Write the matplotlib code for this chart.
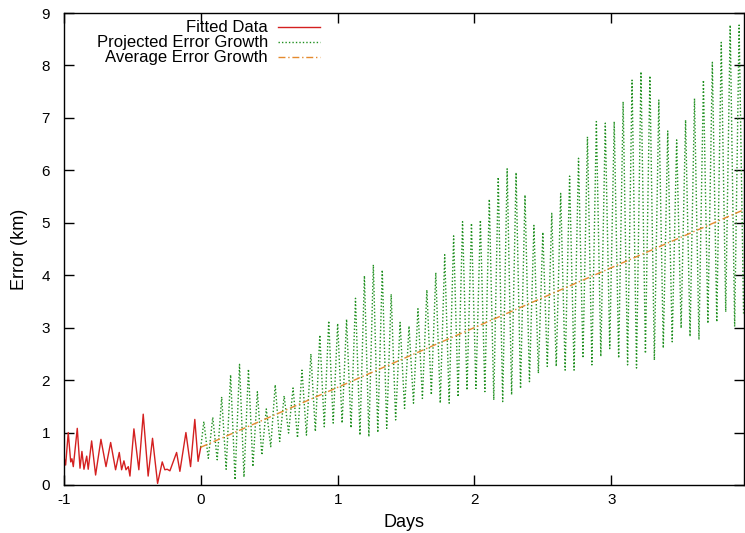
"""
Orbit error: fitted data over the last day and projected growth ahead.
"""

import numpy as np
import matplotlib
matplotlib.use("Agg")
import matplotlib.pyplot as plt
from matplotlib.lines import Line2D

plt.rcParams['font.family'] = ['Liberation Sans', 'DejaVu Sans']
plt.rcParams['font.size'] = 11
plt.rcParams['axes.unicode_minus'] = False

# fitted data (turning points of the curve), days / km
fit_days = [-1.0, -0.988, -0.969, -0.951, -0.942, -0.932, -0.903, -0.883, -0.869, -0.854,
            -0.834, -0.823, -0.798, -0.769, -0.730, -0.693, -0.659, -0.623, -0.596, -0.579,
            -0.562, -0.547, -0.530, -0.518, -0.489, -0.453, -0.421, -0.385, -0.353, -0.316,
            -0.282, -0.263, -0.246, -0.226, -0.177, -0.153, -0.109, -0.075, -0.044, -0.020, 0.0]
fit_err = [0.54, 0.38, 1.00, 0.44, 0.50, 0.35, 1.08, 0.32, 0.64, 0.30,
           0.55, 0.30, 0.84, 0.19, 0.87, 0.35, 0.81, 0.29, 0.62, 0.29,
           0.46, 0.29, 0.35, 0.17, 1.07, 0.29, 1.35, 0.17, 0.89, 0.03,
           0.44, 0.29, 0.30, 0.27, 0.62, 0.26, 1.00, 0.35, 1.25, 0.45, 0.73]

# projected error: one max and one min per orbit
orbit_period = 0.0652   # days
first_peak = 0.022
proj_start = 0.72
proj_peaks = [1.21, 1.29, 1.68, 2.10, 2.30, 2.21, 1.78, 1.45, 1.91, 1.70,
              1.85, 2.19, 2.50, 2.86, 3.13, 3.08, 3.16, 3.56, 3.99, 4.20,
              4.10, 3.64, 3.10, 3.03, 3.36, 3.72, 4.05, 4.39, 4.75, 5.02,
              4.99, 5.05, 5.45, 5.87, 6.03, 5.96, 5.53, 4.95, 4.82, 5.18,
              5.56, 5.89, 6.23, 6.64, 6.93, 6.90, 6.93, 7.31, 7.72, 7.88,
              7.80, 7.34, 6.75, 6.58, 6.96, 7.37, 7.72, 8.06, 8.44, 8.77, 8.77]
proj_troughs = [0.51, 0.48, 0.30, 0.10, 0.15, 0.35, 0.57, 0.73, 0.83, 0.99,
                0.90, 0.95, 1.02, 1.11, 1.18, 1.18, 1.09, 0.95, 0.92, 1.00,
                1.08, 1.24, 1.46, 1.56, 1.65, 1.72, 1.56, 1.56, 1.68, 1.81,
                1.84, 1.78, 1.62, 1.59, 1.72, 1.84, 1.97, 2.13, 2.26, 2.26,
                2.19, 2.19, 2.42, 2.29, 2.45, 2.60, 2.42, 2.29, 2.23, 2.51,
                2.38, 2.61, 2.73, 2.99, 2.83, 2.77, 3.08, 3.11, 3.30, 3.02, 3.27]

# linear average growth
avg_days = [0.0, 3.97]
avg_err = [0.72, 5.25]

red = '#d42020'
green = '#1f8f1f'
orange = '#e58a2e'

# interleave max / min of each orbit
peak_days = first_peak + orbit_period * np.arange(len(proj_peaks))
trough_days = peak_days + orbit_period / 2
proj_days = np.concatenate([[0.0], np.column_stack([peak_days, trough_days]).ravel()])
proj_err = np.concatenate([[proj_start], np.column_stack([proj_peaks, proj_troughs]).ravel()])

fig = plt.figure(figsize=(7.45, 5.33), dpi=100)
ax = fig.add_axes([0.0859, 0.0901, 0.9128, 0.8855])

ax.plot(fit_days, fit_err, color=red, lw=1.0)
ax.plot(proj_days, proj_err, color=green, lw=1.0, ls=(0, (1, 1.5)))
ax.plot(avg_days, avg_err, color=orange, lw=1.0, ls=(0, (5, 2, 1, 2)))

ax.set_xlim(-1, 3.97)
ax.set_ylim(0, 9)
ax.set_xticks([-1, 0, 1, 2, 3])
ax.set_yticks(range(10))
ax.tick_params(direction='in', length=7, width=1, top=True, right=True)
ax.tick_params(axis='x', pad=6)
ax.tick_params(axis='y', pad=10)
for s in ax.spines.values():
    s.set_linewidth(1.0)
ax.set_xlabel('Days', fontsize=13, labelpad=5)
ax.set_ylabel('Error (km)', fontsize=13, labelpad=10)

# gnuplot style key: right aligned text, sample to the right
labels = ['Fitted Data', 'Projected Error Growth', 'Average Error Growth']
styles = [(red, '-'), (green, (0, (1, 1.5))), (orange, (0, (5, 2, 1, 2)))]
rows = [0.9697, 0.938, 0.906]
for lab, (c, st), yy in zip(labels, styles, rows):
    ax.text(0.300, yy, lab, transform=ax.transAxes, ha='right', va='center', fontsize=12)
    ax.add_line(Line2D([0.315, 0.376], [yy, yy], transform=ax.transAxes,
                       color=c, ls=st, lw=1.0))

fig.savefig('out.png', dpi=100)
